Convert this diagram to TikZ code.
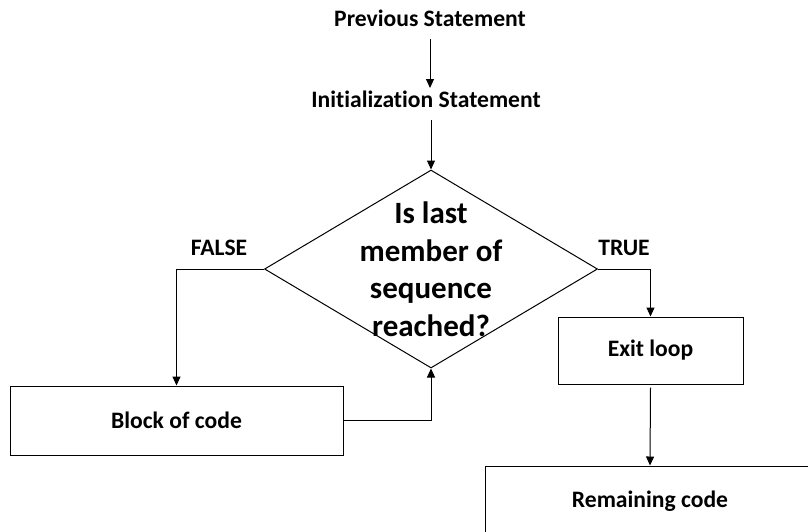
\documentclass[tikz,border=0pt]{standalone}
\usepackage{fontspec}
\setmainfont{Carlito}[Ligatures=NoCommon]
\usetikzlibrary{arrows.meta,shapes.geometric}
\begin{document}
\begin{tikzpicture}[x=1pt,y=-1pt,
  line width=1pt,
  every node/.style={font=\bfseries\fontsize{23.6}{28}\selectfont},
  lbl/.style={inner sep=0pt},
  box/.style={draw,inner sep=0pt},
  arr/.style={-{Triangle[length=9pt,width=8pt]}},
  cond/.style={draw,diamond,inner sep=0pt,minimum width=333pt,minimum height=198pt}]
  \clip (0,0) rectangle (808,531);
  \useasboundingbox (0,0) rectangle (808,531);
  % statements above the loop
  \node[lbl] (prev) at (430,18) {Previous Statement};
  \node[lbl] (init) at (426,99) {Initialization Statement};
  % the loop test
  \node[cond] (test) at (431,269) {};
  \node[lbl,align=center,font=\bfseries\fontsize{31}{37.5}\selectfont] (q) at (431,269)
    {Is last\\member of\\sequence\\reached?};
  \node[lbl] (false) at (219,248) {FALSE};
  \node[lbl] (true) at (624,248) {TRUE};
  % boxes
  \node[box,minimum width=333pt,minimum height=69pt] (body) at (176.5,420.5) {Block of code};
  \node[box,minimum width=185pt,minimum height=67pt] (exit) at (650.5,350.5) {Exit loop};
  \node[box,minimum width=330pt,minimum height=70pt] (rest) at (650,501) {Remaining code};
  % connectors
  \draw[arr] (prev.south |- 0,39) -- (prev.south |- 0,88) coordinate (a1);
  \draw[arr] (431,120) -- (test.north);
  \draw[arr] (test.west) -| (body.north);
  \draw[arr] (body.east) -| (test.south);
  \draw[arr] (test.east) -| (exit.north);
  \draw[arr] (exit.south) ++(0,3) -- (rest.north);
\end{tikzpicture}
\end{document}
